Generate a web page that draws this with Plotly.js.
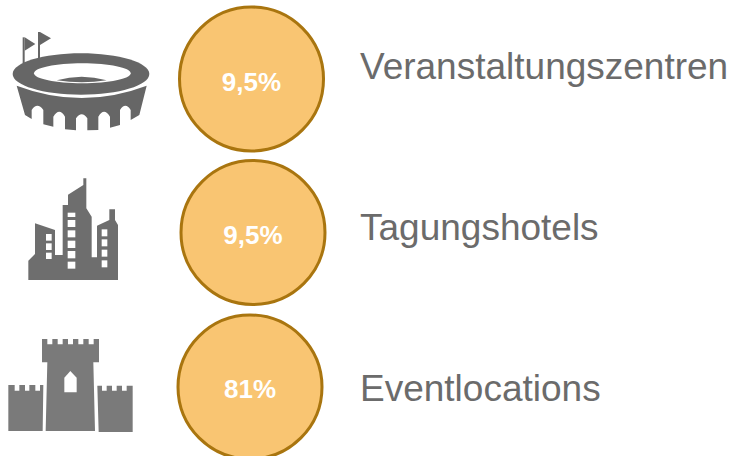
<!DOCTYPE html>
<html><head><meta charset="utf-8">
<script src="https://cdn.plot.ly/plotly-3.0.1.min.js"></script>
<style>html,body{margin:0;padding:0;background:#fff;overflow:hidden}#c{width:738px;height:456px}</style>
</head><body><div id="c"></div>
<script>
const categories = ['Veranstaltungszentren', 'Tagungshotels', 'Eventlocations'];
const shareLabels = ['9,5%', '9,5%', '81%'];

// layout, in page pixels
const circleX = [251.5, 253, 250], circleY = [79, 232.5, 387];
const labelDY = [5, 5, 4];
const nameX = [360, 360, 360], nameY = [70, 231, 392];

// decorative icons, traced at 3x; o = icon origin in page pixels
function icon(d, ox, oy, color) {
  const path = d.replace(/(-?[\d.]+),(-?[\d.]+)/g, (m, a, b) =>
    (ox + a / 3).toFixed(2) + ',' + (oy + b / 3).toFixed(2));
  return {type:'path', xref:'x', yref:'y', path, fillcolor:color, line:{width:0}, layer:'above'};
}
const ell = (cx, cy, rx, ry) => {
  const k = 0.5523;
  return `M${cx-rx},${cy} C${cx-rx},${cy-ry*k} ${cx-rx*k},${cy-ry} ${cx},${cy-ry} C${cx+rx*k},${cy-ry} ${cx+rx},${cy-ry*k} ${cx+rx},${cy} C${cx+rx},${cy+ry*k} ${cx+rx*k},${cy+ry} ${cx},${cy+ry} C${cx-rx*k},${cy+ry} ${cx-rx},${cy+ry*k} ${cx-rx},${cy} Z`;
};
const rect = (x0, y0, x1, y1) => `M${x0},${y0} L${x1},${y0} L${x1},${y1} L${x0},${y1} Z`;
const shapes = [];
// stadium
const sc = '#666666';
[
  [rect(68,52,74,130), sc], ['M74,52 L106,72 L74,92 Z', sc],
  [rect(114,36,120,115), sc], ['M120,36 L153,55 L120,75 Z', sc],
  [ell(243,162,205,62), sc], [ell(247,160,145,30), '#ffffff'],
  ['M170,181 Q245,160 320,181 Q245,193 170,181 Z', sc],
  ['M50,197 Q245,271 440,197 L418,285 L392,300 L392,270 Q376,245 360,270 L360,315 L330,323 L330,290 Q312,260 295,290 L295,330 L262,331 L262,295 Q245,270 228,295 L228,331 L195,328 L195,290 Q178,260 160,290 L160,320 L130,313 L130,270 Q112,245 95,270 L95,297 L75,285 Z', sc]
].forEach(([d, c]) => shapes.push(icon(d, 0, 20, c)));
// city
const bc = '#6e6e6e';
shapes.push(icon('M85,330 L85,272 L105,252 L105,160 L165,180 L165,255 L188,255 L188,105 L204,105 L204,74 L250,45 L250,25 L259,25 L259,115 L275,140 L275,262 L291,262 L291,167 L328,150 L328,118 L345,118 L345,150 L354,165 L354,330 Z', 0, 170, bc));
[[138,192,155,212],[138,220,155,240],[138,248,155,267],
 [203,128,226,141],[203,150,226,171],[203,181,226,202],[203,212,226,234],[203,243,226,265],[203,275,226,296],
 [305,178,322,199],[305,208,322,229],[305,239,322,260],[305,271,322,292]
].forEach(r => shapes.push(icon(rect(...r), 0, 170, '#ffffff')));
// castle
const cc = '#7a7a7a';
[
  'M126,42 L142,42 L142,58 L157,58 L157,42 L173,42 L173,58 L188,58 L188,42 L204,42 L204,58 L219,58 L219,42 L235,42 L235,58 L250,58 L250,42 L266,42 L266,58 L281,58 L281,42 L297,42 L297,112 L280,112 L285,318 L137,318 L142,112 L126,112 Z',
  'M25,180 L44,180 L44,197 L58,197 L58,180 L75,180 L75,197 L88,197 L88,180 L106,180 L106,197 L120,197 L120,180 L130,180 L128,318 L25,318 Z',
  'M292,182 L306,182 L306,197 L320,197 L320,182 L336,182 L336,197 L350,197 L350,182 L366,182 L366,197 L380,197 L380,182 L398,182 L398,321 L296,321 Z'
].forEach(d => shapes.push(icon(d, 0, 325, cc)));
shapes.push(icon('M193,202 L193,158 L211,138 L230,158 L230,202 Z', 0, 325, '#ffffff'));

const traces = [
  {type:'scatter', mode:'markers', x:circleX, y:circleY, cliponaxis:false, hoverinfo:'skip',
   marker:{size:144, color:'#F9C572', line:{color:'#A9750F', width:3}}},
  {type:'scatter', mode:'text', x:circleX, y:circleY.map((v, i) => v + labelDY[i]), text:shareLabels,
   textposition:'middle center', hoverinfo:'skip', cliponaxis:false,
   textfont:{family:'"Liberation Sans", Arial, sans-serif', size:26, color:'#ffffff', weight:700}},
  {type:'scatter', mode:'text', x:nameX, y:nameY, text:categories,
   textposition:'middle right', hoverinfo:'skip', cliponaxis:false,
   textfont:{family:'"Liberation Sans", Arial, sans-serif', size:37, color:'#6b6b6b'}}
];
const hidden = {visible:false, fixedrange:true};
Plotly.newPlot('c', traces, {
  width:738, height:456, margin:{l:0, r:0, t:0, b:0}, showlegend:false,
  paper_bgcolor:'#ffffff', plot_bgcolor:'#ffffff',
  xaxis:Object.assign({range:[0, 738]}, hidden),
  yaxis:Object.assign({range:[456, 0]}, hidden),
  shapes
}, {displayModeBar:false, staticPlot:true});
</script></body></html>
